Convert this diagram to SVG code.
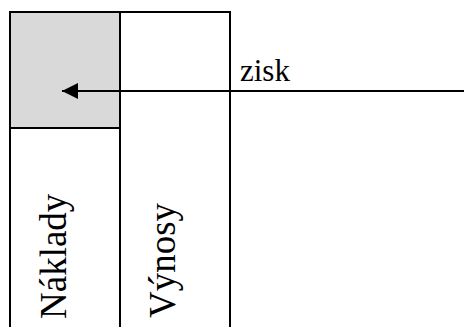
<svg xmlns="http://www.w3.org/2000/svg" width="464" height="327" viewBox="0 0 464 327">
<style>
.ln{stroke:#000;stroke-width:2;fill:none}
.t{font-family:"Liberation Serif","Times New Roman",serif;fill:#000}
</style>
<defs>
<marker id="ah" markerWidth="16" markerHeight="16" refX="16" refY="8" orient="auto" markerUnits="userSpaceOnUse" viewBox="0 0 16 16">
<path d="M0,0 L16,8 L0,16 Z" fill="#000"/>
</marker>
</defs>
<rect width="464" height="327" fill="#fff"/>
<g id="naklady">
<rect x="10" y="12" width="110" height="116" fill="#d9d9d9"/>
<path class="ln" d="M10,327 V12 H120 V327 M10,128 H120"/>
<text class="t" font-size="37" transform="translate(66,319) rotate(-90)">Náklady</text>
</g>
<g id="vynosy">
<path class="ln" d="M120,12 H230 V327"/>
<text class="t" font-size="37" transform="translate(175,318) rotate(-90)">Výnosy</text>
</g>
<g id="connectors">
<line class="ln" x1="464" y1="91" x2="62" y2="91" marker-end="url(#ah)"/>
<text class="t" font-size="31" x="240" y="81">zisk</text>
</g>
</svg>
